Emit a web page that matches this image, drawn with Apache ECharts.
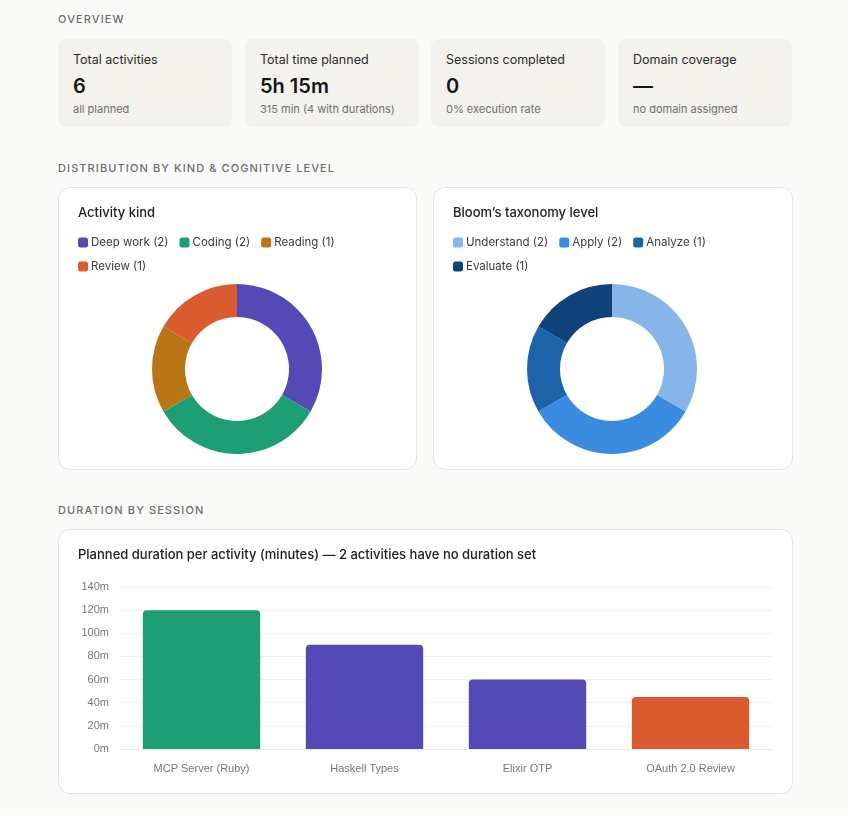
<!DOCTYPE html>
<html>
<head>
<meta charset="utf-8">
<script src="https://cdn.jsdelivr.net/npm/echarts@6/dist/echarts.min.js"></script>
<style>
  body {
    margin: 0;
    width: 848px;
    height: 815px;
    background: #fafaf9;
    font-family: Inter, "Noto Sans", sans-serif;
    position: relative;
    overflow: hidden;
  }
  .section {
    position: absolute;
    left: 58px;
    font-size: 11px;
    letter-spacing: 1.1px;
    color: #6e6e6e;
    font-weight: 500;
  }
  .stat {
    position: absolute;
    top: 39px;
    width: 174px;
    height: 88px;
    background: #f3f2ec;
    border-radius: 8px;
    box-sizing: border-box;
    padding: 13px 15px;
  }
  .stat .label { font-size: 12.5px; color: #2b2b2b; line-height: 15px; }
  .stat .value { font-size: 20px; font-weight: 600; color: #151515; margin-top: 7px; line-height: 24px; }
  .stat .sub { font-size: 11px; color: #6f6f6f; margin-top: 4px; line-height: 14px; }
  .card {
    position: absolute;
    background: #ffffff;
    border: 1px solid #e3e3e1;
    border-radius: 12px;
    box-sizing: border-box;
  }
  .chart { width: 100%; height: 100%; }
</style>
</head>
<body>
<div class="section" style="top:12px">OVERVIEW</div>

<div class="stat" style="left:58px">
  <div class="label">Total activities</div>
  <div class="value">6</div>
  <div class="sub">all planned</div>
</div>
<div class="stat" style="left:245px">
  <div class="label">Total time planned</div>
  <div class="value">5h 15m</div>
  <div class="sub">315 min (4 with durations)</div>
</div>
<div class="stat" style="left:431px">
  <div class="label">Sessions completed</div>
  <div class="value">0</div>
  <div class="sub">0% execution rate</div>
</div>
<div class="stat" style="left:618px">
  <div class="label">Domain coverage</div>
  <div class="value">—</div>
  <div class="sub">no domain assigned</div>
</div>

<div class="section" style="top:161px">DISTRIBUTION BY KIND &amp; COGNITIVE LEVEL</div>
<div class="card" style="left:58px; top:187px; width:359px; height:283px">
  <div id="kindChart" class="chart"></div>
</div>
<div class="card" style="left:433px; top:187px; width:360px; height:283px">
  <div id="bloomChart" class="chart"></div>
</div>

<div class="section" style="top:503px">DURATION BY SESSION</div>
<div class="card" style="left:58px; top:529px; width:735px; height:265px">
  <div id="durationChart" class="chart"></div>
</div>

<script>
// activity kinds
const kindNames = ['Deep work', 'Coding', 'Reading', 'Review']
const kindCounts = [2, 2, 1, 1]
const kindColors = ['#5549b6', '#1e9e74', '#b97616', '#d95b2f']

// bloom levels
const bloomNames = ['Understand', 'Apply', 'Analyze', 'Evaluate']
const bloomCounts = [2, 2, 1, 1]
const bloomColors = ['#86b6e9', '#3a8ce0', '#1d63a9', '#0f427b']

// planned duration per activity
const activities = ['MCP Server (Ruby)', 'Haskell Types', 'Elixir OTP', 'OAuth 2.0 Review']
const activityKinds = ['Coding', 'Deep work', 'Deep work', 'Review']
const durations = [120, 90, 60, 45]
const yTicks = [0, 20, 40, 60, 80, 100, 120, 140]

const font = 'Inter, "Noto Sans", sans-serif'

function donut(el, title, names, counts, colors) {
  const chart = echarts.init(document.getElementById(el))
  const data = names.map((n, i) => ({
    value: counts[i],
    name: n + ' (' + counts[i] + ')',
    itemStyle: { color: colors[i] }
  }))
  chart.setOption({
    animation: false,
    title: {
      text: title,
      left: 14,
      top: 14,
      textStyle: { fontFamily: font, fontSize: 13, fontWeight: 500, color: '#222' }
    },
    legend: {
      left: 14,
      top: 43,
      width: 290,
      itemWidth: 10,
      itemHeight: 10,
      itemGap: 11,
      icon: 'roundRect',
      textStyle: { fontFamily: font, fontSize: 11.5, lineHeight: 13, color: '#3b3b3b', padding: [0, 0, 0, -2] }
    },
    series: [{
      type: 'pie',
      center: [178, 181],
      radius: [52, 85],
      startAngle: 90,
      label: { show: false },
      labelLine: { show: false },
      emphasis: { disabled: true },
      data: data
    }]
  })
}

donut('kindChart', 'Activity kind', kindNames, kindCounts, kindColors)
donut('bloomChart', 'Bloom\u2019s taxonomy level', bloomNames, bloomCounts, bloomColors)

const barChart = echarts.init(document.getElementById('durationChart'))
barChart.setOption({
  animation: false,
  title: {
    text: 'Planned duration per activity (minutes) \u2014 2 activities have no duration set',
    left: 14,
    top: 14,
    textStyle: { fontFamily: font, fontSize: 13, fontWeight: 500, color: '#222' }
  },
  grid: { left: 61, right: 20, top: 57, bottom: 44 },
  xAxis: {
    type: 'category',
    data: activities,
    axisLine: { lineStyle: { color: '#ececec' } },
    axisTick: { show: false },
    axisLabel: { color: '#777', fontSize: 11, fontFamily: 'Liberation Sans, Arial, sans-serif', margin: 14 }
  },
  yAxis: {
    type: 'value',
    min: yTicks[0],
    max: yTicks[yTicks.length - 1],
    interval: yTicks[1] - yTicks[0],
    axisLine: { show: false },
    axisTick: { show: false },
    axisLabel: { color: '#777', fontSize: 11, fontFamily: 'Liberation Sans, Arial, sans-serif', formatter: '{value}m', margin: 11 },
    splitLine: { lineStyle: { color: '#efefef' } }
  },
  series: [{
    type: 'bar',
    barWidth: '72%',
    data: durations.map((v, i) => ({
      value: v,
      itemStyle: { color: kindColors[kindNames.indexOf(activityKinds[i])], borderRadius: [4, 4, 0, 0] }
    }))
  }]
})
</script>
</body>
</html>
